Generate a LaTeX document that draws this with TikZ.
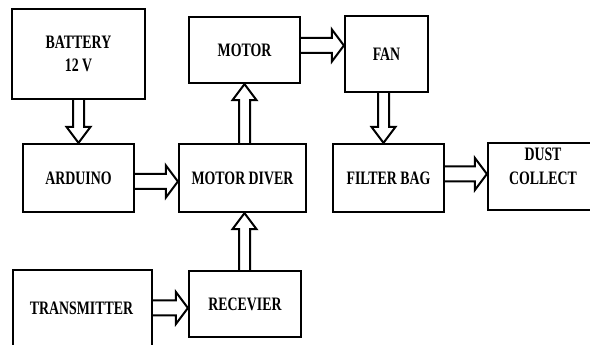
\documentclass[tikz,border=0pt]{standalone}
\usepackage{fontspec}
\newfontfamily\lblfont{Liberation Serif}[FakeStretch=0.73]
\usetikzlibrary{calc}
\tikzset{
  blockbox/.style={draw=black, line width=2.2pt, fill=white, inner sep=0pt, align=center,
    font=\lblfont\bfseries\fontsize{19}{23.5}\selectfont},
  lbl/.style={inner sep=0pt, align=center, font=\lblfont\bfseries\fontsize{19}{23.5}\selectfont},
  blk/.style={draw=black, line width=2pt, fill=white, line join=miter}
}
% horizontal hollow block arrow from #1.east to #2.west at height #3
\newcommand\hblk[3]{%
  \draw[blk] let \p1=(#1.east), \p2=(#2.west) in
    (\x1,#3pt+7.5pt) -- (\x2-12pt,#3pt+7.5pt) -- (\x2-12pt,#3pt+16pt) -- (\x2,#3pt)
    -- (\x2-12pt,#3pt-16pt) -- (\x2-12pt,#3pt-7.5pt) -- (\x1,#3pt-7.5pt);}
% downward block arrow from #1.south to #2.north at x #3
\newcommand\dblk[3]{%
  \draw[blk] let \p1=(#1.south), \p2=(#2.north) in
    (#3pt-5.5pt,\y1) -- (#3pt-5.5pt,\y2+16pt) -- (#3pt-12pt,\y2+16pt) -- (#3pt,\y2)
    -- (#3pt+12pt,\y2+16pt) -- (#3pt+5.5pt,\y2+16pt) -- (#3pt+5.5pt,\y1);}
% upward block arrow from #1.north to #2.south at x #3
\newcommand\ublk[3]{%
  \draw[blk] let \p1=(#1.north), \p2=(#2.south) in
    (#3pt-5.5pt,\y1) -- (#3pt-5.5pt,\y2-16pt) -- (#3pt-12pt,\y2-16pt) -- (#3pt,\y2)
    -- (#3pt+12pt,\y2-16pt) -- (#3pt+5.5pt,\y2-16pt) -- (#3pt+5.5pt,\y1);}
\begin{document}
\begin{tikzpicture}[x=1pt,y=1pt]
\clip (0,0) rectangle (590,345);
\fill[white] (0,0) rectangle (590,345);
\node[blockbox, minimum width=133pt, minimum height=90pt] (battery) at (78.5,291) {BATTERY\\12 V};
\node[blockbox, minimum width=111pt, minimum height=66pt] (motor) at (244.5,295) {MOTOR};
\node[blockbox, minimum width=83pt, minimum height=76pt] (fan) at (386.5,291) {FAN};
\node[blockbox, minimum width=111pt, minimum height=68pt] (arduino) at (78.5,167) {ARDUINO};
\node[blockbox, minimum width=127pt, minimum height=68pt] (driver) at (242.5,167) {MOTOR DIVER};
\node[blockbox, minimum width=111pt, minimum height=68pt] (filter) at (388.5,167) {FILTER BAG};
\node[blockbox, minimum width=110pt, minimum height=67pt] (dust) at (543,168.5) {};
\node[lbl] (dusttxt) at (543,178.5) {DUST\\COLLECT};
\node[blockbox, minimum width=139pt, minimum height=82pt] (transmitter) at (82.5,34) {};
\node[lbl] (transtxt) at (81.5,36.5) {TRANSMITTER};
\node[blockbox, minimum width=112pt, minimum height=66pt] (receiver) at (245,41) {RECEVIER};

\dblk{battery}{arduino}{78.5}
\ublk{driver}{motor}{244.5}
\ublk{receiver}{driver}{244.5}
\dblk{fan}{filter}{383.5}
\hblk{arduino}{driver}{163.5}
\hblk{motor}{fan}{299.5}
\hblk{filter}{dust}{171}
\hblk{transmitter}{receiver}{37}
\end{tikzpicture}
\end{document}
